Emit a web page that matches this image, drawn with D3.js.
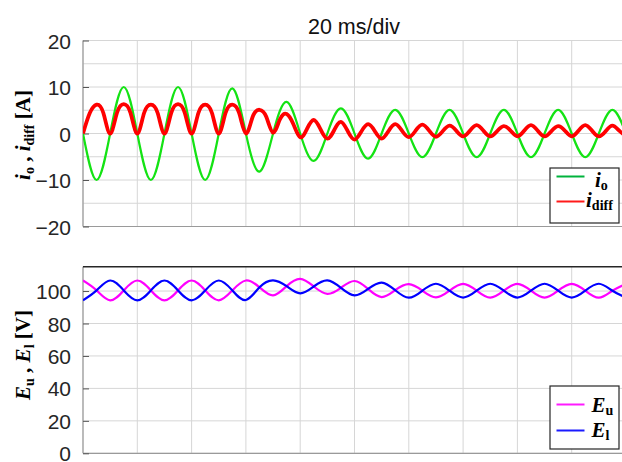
<!DOCTYPE html>
<html><head><meta charset="utf-8">
<script src="https://cdn.jsdelivr.net/npm/d3@7"></script>
<style>
body{margin:0;background:#fff;}
svg{display:block;}
</style></head><body>
<svg id="chart" width="622" height="462"></svg>
<script>
// ---------------- DATA ----------------
const titleText = "20 ms/div";
const xGridMs = [0, 20, 40, 60, 80, 100, 120, 140, 160, 180, 200];
const topTicks = [-20, -10, 0, 10, 20];
const topGrid = [-20, -15, -10, -5, 0, 5, 10, 15, 20];
const bottomTicks = [0, 20, 40, 60, 80, 100];
const bottomGrid = [0, 20, 40, 60, 80, 100];

// sample times (ms)
const t5 = d3.range(0, 201, 5);     // every 5 ms
const t25 = d3.range(0, 200.1, 2.5); // every 2.5 ms

// i_o [A], every 5 ms
const iO = [0, -10, 0, 10, 0, -10, 0, 10, 0, -10, 0, 9.7, 0, -8.2, 0, 6.8, 0, -5.9, 0, 5.4,
  0, -5.4, 0, 5.1, 0, -5.1, 0, 5.1, 0, -5.1, 0, 5.1, 0, -5.1, 0, 5.1, 0, -5.1, 0, 5.1, 0];

// i_diff [A], every 2.5 ms
const iDiff = [
  0, 4.4, 6.2, 4.4, 0, 4.4, 6.3, 4.4, 0, 4.4, 6.2, 4.4, 0, 4.4, 6.3, 4.4,
  0, 4.4, 6.2, 4.4, 0, 4.4, 6.2, 4.4, 0, 3.6, 5.1, 3.6, 0.2, 3.0, 4.2, 2.0,
  -0.8, 1.0, 2.9, 0.9, -1.1, 0.7, 2.5, 0.5, -1.3, 0.4, 2.0, 0.5, -1.1, 0.5, 2.0, 0.6,
  -0.8, 0.6, 1.9, 0.6, -0.7, 0.5, 1.7, 0.6, -0.6, 0.6, 1.8, 0.6, -0.6, 0.5, 1.6, 0.6,
  -0.6, 0.6, 1.8, 0.6, -0.6, 0.5, 1.6, 0.6, -0.6, 0.6, 1.8, 0.6, -0.6, 0.5, 1.7, 0.6, -0.5];

// E_u [V], every 5 ms
const eU = [106.5, 100.4, 94.3, 100.4, 106.5, 100.4, 94.3, 100.4, 106.5, 100.4, 94.3, 100.4,
  106.5, 102.3, 97.3, 103, 107.5, 102.8, 98.3, 102, 106.2, 101.3, 96.3, 100.5,
  104.2, 100.2, 96.1, 100.2, 104.4, 100.2, 95.9, 100.2, 104.4, 100.2, 95.9, 100.2,
  104.4, 100.2, 95.9, 100.2, 104.4];

// E_l [V], every 5 ms
const eL = [94.3, 100.4, 106.5, 100.4, 94.3, 100.4, 106.5, 100.4, 94.3, 100.4, 106.5, 100.4,
  94.5, 102.3, 106.6, 103, 98.6, 102.8, 106.6, 102, 97.3, 101.3, 105.2, 100.5,
  95.9, 100.2, 104.5, 100.2, 96, 100.2, 104.5, 100.2, 96, 100.2, 104.5, 100.2,
  96, 100.2, 104.5, 100.2, 96];

// ---------------- LAYOUT ----------------
const svg = d3.select("#chart");
const X0 = 83, X1 = 626;
const topP = {y0: 40.5, y1: 226.5, dom: [-20, 20]};
const botP = {y0: 266.7, y1: 453.3, dom: [0, 115]};

const x = d3.scaleLinear().domain([0, 200]).range([X0, X1]);
const yT = d3.scaleLinear().domain(topP.dom).range([topP.y1, topP.y0]);
const yB = d3.scaleLinear().domain(botP.dom).range([botP.y1, botP.y0]);

const gridCol = "#d6d6d6", axisCol = "#9a9a9a", textCol = "#262626";
const tickFont = "'Liberation Sans', Arial, Helvetica, sans-serif";
const serif = "'Liberation Serif', 'Times New Roman', serif";

const defs = svg.append("defs");
[["clipT", topP], ["clipB", botP]].forEach(([id, p]) => {
  defs.append("clipPath").attr("id", id).append("rect")
    .attr("x", X0).attr("y", p.y0).attr("width", X1 - X0).attr("height", p.y1 - p.y0);
});

function panel(y, p, grid, ticks, clipId) {
  const g = svg.append("g");
  g.selectAll(".hg").data(grid).join("line")
    .attr("x1", X0).attr("x2", X1).attr("y1", d => y(d)).attr("y2", d => y(d))
    .attr("stroke", gridCol).attr("stroke-width", 1);
  g.selectAll(".vg").data(xGridMs).join("line")
    .attr("x1", d => x(d)).attr("x2", d => x(d)).attr("y1", p.y0).attr("y2", p.y1)
    .attr("stroke", gridCol).attr("stroke-width", 1);
  g.append("line").attr("x1", X0).attr("x2", X0).attr("y1", p.y0).attr("y2", p.y1)
    .attr("stroke", axisCol).attr("stroke-width", 1.2);
  g.append("line").attr("x1", X0).attr("x2", X1).attr("y1", p.y1).attr("y2", p.y1)
    .attr("stroke", axisCol).attr("stroke-width", 1.2);
  const ax = d3.axisLeft(y).tickValues(ticks).tickSizeInner(-6).tickSizeOuter(0).tickPadding(12);
  const ag = svg.append("g").attr("transform", `translate(${X0},0)`).call(ax);
  ag.select(".domain").remove();
  ag.selectAll(".tick line").attr("stroke", "#555").attr("stroke-width", 1);
  ag.selectAll(".tick text").attr("fill", textCol).attr("font-family", tickFont)
    .attr("font-size", 21).attr("dy", "0.36em");
  return svg.append("g").attr("clip-path", `url(#${clipId})`);
}

const gT = panel(yT, topP, topGrid, topTicks, "clipT");
const gB = panel(yB, botP, bottomGrid, bottomTicks, "clipB");

svg.append("line").attr("x1", X0).attr("x2", 622).attr("y1", botP.y0).attr("y2", botP.y0)
  .attr("stroke", "#262626").attr("stroke-width", 1.5);

// ---------------- CURVES ----------------
function draw(g, ts, vals, y, color, w) {
  const line = d3.line().x(d => x(d[0])).y(d => y(d[1])).curve(d3.curveNatural);
  g.append("path").datum(ts.map((t, i) => [t, vals[i]]))
    .attr("d", line).attr("fill", "none").attr("stroke", color)
    .attr("stroke-width", w).attr("stroke-linejoin", "round");
}
const colIo = "#14e314", colDiff = "#ff0000", colEu = "#ff00ff", colEl = "#0000ff";
draw(gT, t5, iO, yT, colIo, 2.2);
draw(gT, t25, iDiff, yT, colDiff, 3.8);
draw(gB, t5, eU, yB, colEu, 2.2);
draw(gB, t5, eL, yB, colEl, 2.2);

// ---------------- TITLE ----------------
svg.append("text").attr("x", 354).attr("y", 33.5).attr("text-anchor", "middle")
  .attr("font-family", tickFont).attr("font-size", 21.5).attr("fill", "#111").text(titleText);

// ---------------- Y LABELS ----------------
function ylabel(cx, cy, parts) {
  const t = svg.append("text").attr("transform", `translate(${cx},${cy}) rotate(-90)`)
    .attr("text-anchor", "middle").attr("font-family", serif).attr("font-weight", "bold")
    .attr("font-size", 21).attr("fill", "#000");
  parts.forEach(p => {
    const s = t.append("tspan").text(p.s);
    if (p.it) s.attr("font-style", "italic");
    if (p.sub) s.attr("font-size", 14).attr("dy", 4);
    if (p.up) s.attr("dy", -4);
  });
}
ylabel(30, 135, [{s: "i", it: 1}, {s: "o", sub: 1}, {s: " , ", up: 1}, {s: "i", it: 1},
  {s: "diff", sub: 1}, {s: " [A]", up: 1}]);
ylabel(30, 355, [{s: "E", it: 1}, {s: "u", sub: 1}, {s: " , ", up: 1}, {s: "E", it: 1},
  {s: "l", sub: 1}, {s: " [V]", up: 1}]);

// ---------------- LEGENDS ----------------
function legend(bx, by, bw, bh, items) {
  svg.append("rect").attr("x", bx).attr("y", by).attr("width", bw).attr("height", bh)
    .attr("fill", "#fff").attr("stroke", "#262626").attr("stroke-width", 1.2);
  items.forEach(it => {
    svg.append("line").attr("x1", 556.5).attr("x2", 584.5).attr("y1", it.ly).attr("y2", it.ly)
      .attr("stroke", it.c).attr("stroke-width", 2);
    const t = svg.append("text").attr("x", it.tx).attr("y", it.ty)
      .attr("font-family", serif).attr("font-weight", "bold").attr("font-size", 21).attr("fill", "#000");
    t.append("tspan").attr("font-style", "italic").text(it.main);
    t.append("tspan").attr("font-size", 14).attr("dy", 3).text(it.sub);
  });
}
legend(550, 168, 69, 55, [
  {c: "#00b33c", ly: 176.5, tx: 595, ty: 186.5, main: "i", sub: "o"},
  {c: "#ff1a1a", ly: 201.5, tx: 586, ty: 206.5, main: "i", sub: "diff"}
]);
legend(550, 386, 69, 63, [
  {c: "#ff1aff", ly: 404.5, tx: 591.5, ty: 411.5, main: "E", sub: "u"},
  {c: "#1a1aff", ly: 430.5, tx: 591.5, ty: 437, main: "E", sub: "l"}
]);
</script>
</body></html>
